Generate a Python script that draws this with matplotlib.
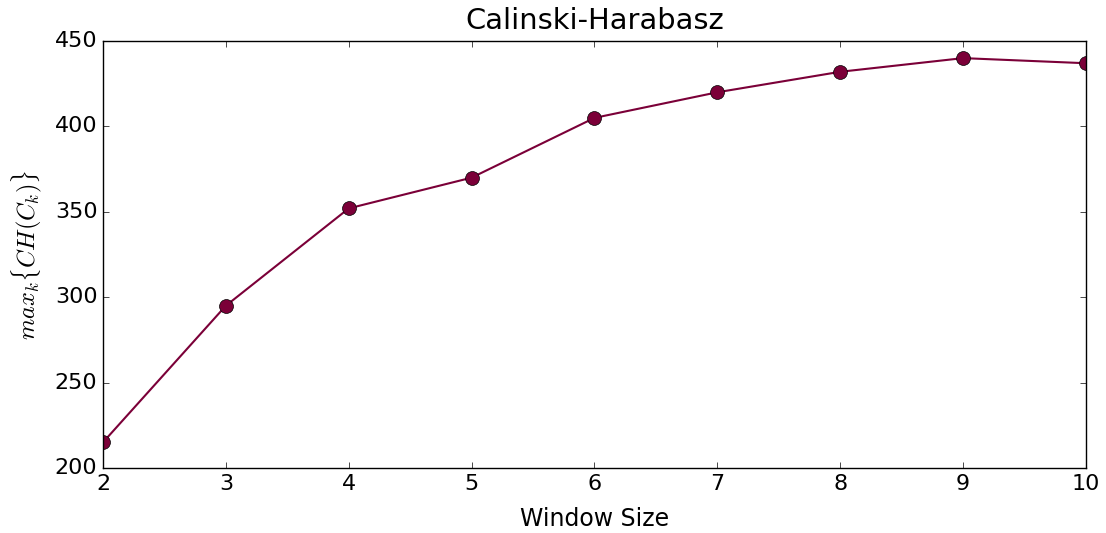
import matplotlib
matplotlib.use('Agg')
import matplotlib.pyplot as plt

# window sizes and max CH score
window_sizes = [2, 3, 4, 5, 6, 7, 8, 9, 10]
ch_scores = [215, 295, 352, 370, 405, 420, 432, 440, 437]

plt.style.use('classic')
fig = plt.figure(figsize=(11.06, 5.33), dpi=100)
ax = fig.add_axes([0.0931, 0.122, 0.8888, 0.801])

ax.plot(window_sizes, ch_scores, color='#7b0038', marker='o', markersize=10,
        markerfacecolor='#7b0038', markeredgecolor='black', linewidth=1.5)

ax.set_xlim(2, 10)
ax.set_ylim(200, 450)
ax.set_title('Calinski-Harabasz', fontsize=20.8, pad=9)
ax.set_xlabel('Window Size', fontsize=17, labelpad=10)
ax.set_ylabel(r'$max_k\{CH(C_k)\}$', fontsize=17.5, labelpad=8)
ax.tick_params(labelsize=16)

fig.savefig('out.png', dpi=100)
